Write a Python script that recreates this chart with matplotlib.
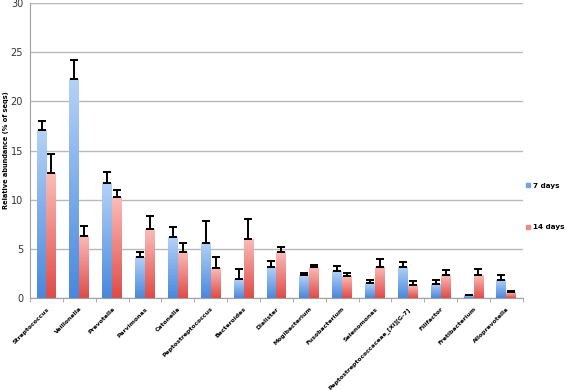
import numpy as np
import matplotlib.pyplot as plt
from matplotlib.lines import Line2D
from matplotlib.colors import to_rgb
from matplotlib import font_manager

genera = ['Streptococcus', 'Veillonella', 'Prevotella', 'Parvimonas', 'Catonella',
          'Peptostreptococcus', 'Bacteroides', 'Dialister', 'Mogibacterium',
          'Fusobacterium', 'Selenomonas', 'Peptostreptococcaceae_[XI][G-7]',
          'Filifactor', 'Fretibacterium', 'Alloprevotella']
days7 = [17.1, 22.3, 11.7, 4.2, 6.2, 5.6, 1.9, 3.2, 2.3, 2.7, 1.5, 3.2, 1.45, 0.3, 1.85]
err7 = [0.9, 1.95, 1.1, 0.45, 1.05, 2.25, 1.0, 0.55, 0.2, 0.55, 0.35, 0.5, 0.4, 0.05, 0.5]
days14 = [12.7, 6.35, 10.25, 7.0, 4.7, 3.05, 6.0, 4.67, 3.1, 2.2, 3.2, 1.3, 2.3, 2.33, 0.57]
err14 = [1.9, 0.95, 0.7, 1.3, 0.93, 1.15, 2.0, 0.5, 0.3, 0.35, 0.78, 0.47, 0.57, 0.64, 0.17]

names = {f.name for f in font_manager.fontManager.ttflist}
narrow = 'Liberation Sans Narrow' if 'Liberation Sans Narrow' in names else 'DejaVu Sans'

blue_top, blue_bot = '#b4d2f8', '#4a88dc'
red_top, red_bot = '#fbbcb8', '#de4c48'

fig = plt.figure(figsize=(5.67, 3.9), dpi=100)
ax = fig.add_axes([0.053, 0.236, 0.869, 0.756])

x = np.arange(len(genera))
w = 0.3
b1 = ax.bar(x - w/2, days7, w, color='none', edgecolor='none', zorder=2)
b2 = ax.bar(x + w/2, days14, w, color='none', edgecolor='none', zorder=2)

def shade(bars, top, bot):
  t = np.array(to_rgb(top)); b = np.array(to_rgb(bot))
  f = np.linspace(0, 1, 64)[:, None]
  grad = (t * (1 - f) + b * f)[:, None, :]
  for p in bars:
    x0, y0 = p.get_x(), p.get_y()
    im = ax.imshow(grad, extent=[x0, x0 + p.get_width(), y0, y0 + p.get_height()],
                   aspect='auto', origin='upper', zorder=2, interpolation='bilinear')
    im.set_clip_path(p)

shade(b1, blue_top, blue_bot)
shade(b2, red_top, red_bot)

ek = dict(fmt='none', ecolor='black', elinewidth=1.4, capsize=2.8, capthick=1.4, zorder=3)
ax.errorbar(x - w/2, days7, yerr=[np.zeros(len(x)), err7], **ek)
ax.errorbar(x + w/2, days14, yerr=[np.zeros(len(x)), err14], **ek)

ax.set_xlim(-0.5, len(genera) - 0.5)
ax.set_ylim(0, 30)
ax.set_yticks(range(0, 31, 5))
ax.yaxis.grid(True, color='#b8b8b8', linewidth=1.0)
ax.set_axisbelow(True)
for s in ['top', 'right']:
  ax.spines[s].set_visible(False)
for s in ['left', 'bottom']:
  ax.spines[s].set_color('#a0a0a0')
ax.tick_params(axis='y', length=0, labelsize=7, labelcolor='#333333', pad=5)

ax.set_xticks(x)
ax.set_xticklabels(genera, rotation=45, ha='right', rotation_mode='anchor',
                   fontsize=4.4, fontweight='bold', family=narrow)
ax.set_xticks(np.arange(-0.5, len(genera)), minor=True)
ax.tick_params(axis='x', which='major', length=0, pad=6)
ax.tick_params(axis='x', which='minor', length=3, color='#a0a0a0')

ax.set_ylabel('Relative abundance (% of seqs)', fontsize=4.8, fontweight='bold',
              family=narrow, labelpad=1.5)

handles = [Line2D([], [], ls='none', marker='s', markersize=3.2, color=c) for c in ('#6fa2e6', '#ee8a88')]
ax.legend(handles, ['7 days', '14 days'], loc='center left', bbox_to_anchor=(0.995, 0.31),
          frameon=False, prop=dict(size=5.2, weight='bold', family=narrow), labelspacing=4.9,
          handletextpad=0.3, handlelength=0.7, borderaxespad=0.3)

fig.savefig('out.png', dpi=100)
